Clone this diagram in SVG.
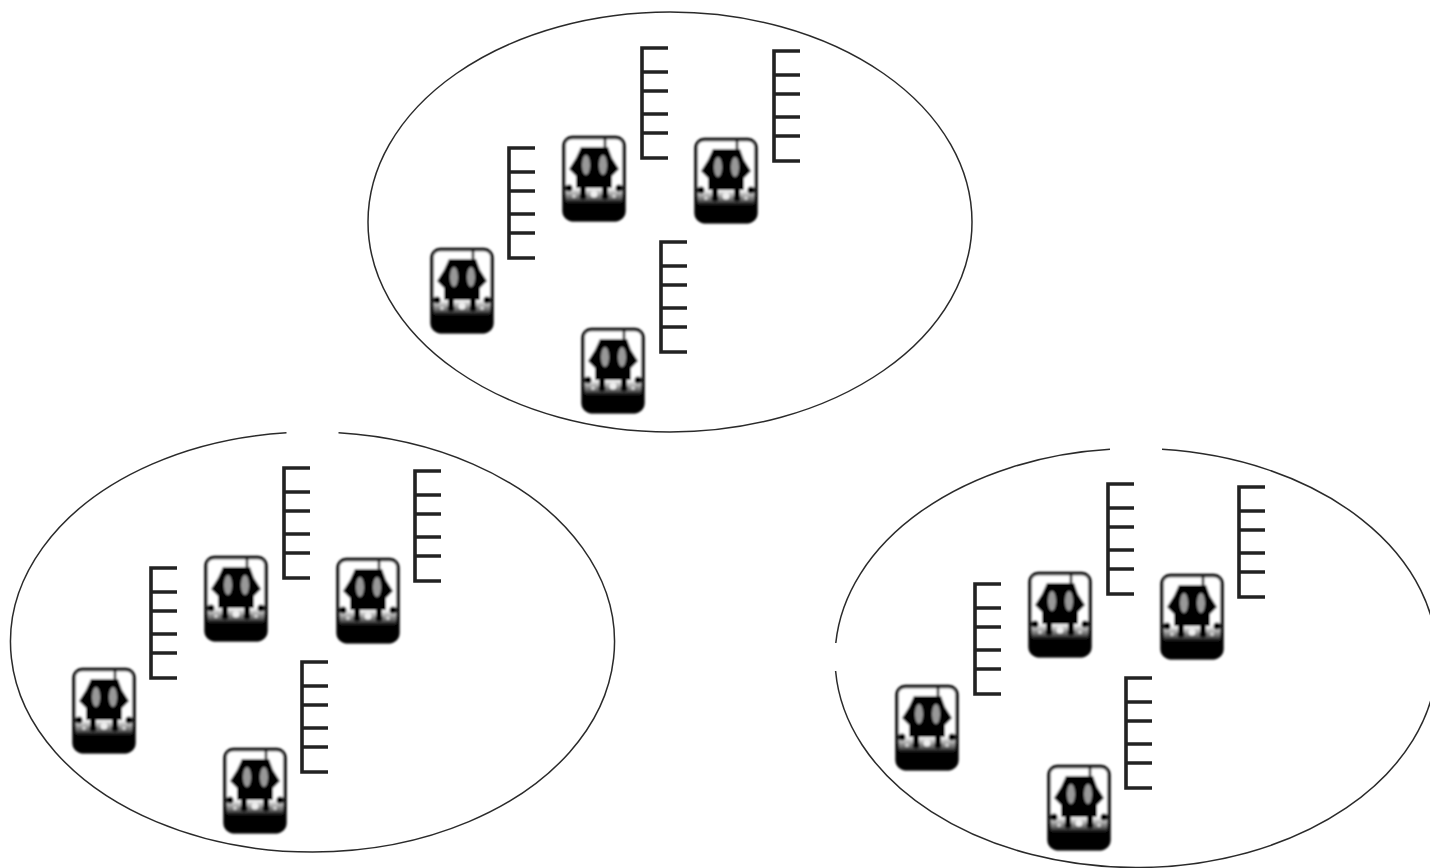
<svg xmlns="http://www.w3.org/2000/svg" width="1430" height="868" viewBox="0 0 1430 868">
<style>
.oval{fill:none;stroke:#2a2a2a;stroke-width:1.5}
.comb{fill:none;stroke:#222;stroke-width:3.6}
</style>
<defs>
<filter id="soft" x="-10%" y="-10%" width="120%" height="120%"><feGaussianBlur stdDeviation="1.1"/></filter>
<filter id="softer" x="-20%" y="-5%" width="140%" height="110%"><feGaussianBlur stdDeviation="0.5"/></filter>
<linearGradient id="fade" x1="0" y1="0" x2="0" y2="1"><stop offset="0" stop-color="#000" stop-opacity="0"/><stop offset="0.3" stop-color="#000" stop-opacity="0.6"/><stop offset="0.45" stop-color="#000"/><stop offset="1" stop-color="#000"/></linearGradient>
<g id="device" filter="url(#soft)">
<rect x="2" y="1.500" width="60" height="82" rx="8" fill="#fff" stroke="#000" stroke-width="3.400"/>
<path d="M43 3V13" stroke="#000" stroke-width="2.500"/>
<path d="M19 11H46L50 22L57 33L50 40V52H14V40L7 33L14 22Z" fill="#000"/>
<ellipse cx="24" cy="29" rx="4" ry="10" fill="#999"/>
<ellipse cx="41" cy="29" rx="4" ry="10" fill="#999"/>
<path d="M2 52H62V76C62 81 58 85.500 54 85.500H10C6 85.500 2 81 2 76Z" fill="url(#fade)"/>
<path d="M21 48V60M43 48V60" stroke="#000" stroke-width="6"/>
<circle cx="7" cy="52" r="3.500" fill="#000"/><circle cx="57" cy="52" r="3.500" fill="#000"/>
<circle cx="21" cy="60" r="3.500" fill="#000"/><circle cx="43" cy="60" r="3.500" fill="#000"/>
<circle cx="32" cy="58" r="3.500" fill="#eee"/>
<circle cx="12" cy="60" r="2" fill="#ccc"/><circle cx="52" cy="60" r="2" fill="#ccc"/>
</g>
<g id="rack" filter="url(#softer)"><path class="comb" d="M28 2H2V112H28M2 26H28M2 45H28M2 68H28M2 87H28"/></g>
</defs>
<g id="cluster-1">
<ellipse class="oval" cx="670" cy="222" rx="302" ry="210"/>
<g id="c1-device-1"><use href="#device" x="430" y="248"/></g>
<g id="c1-device-2"><use href="#device" x="562" y="136"/></g>
<g id="c1-device-3"><use href="#device" x="694" y="138"/></g>
<g id="c1-device-4"><use href="#device" x="581" y="328"/></g>
<g id="c1-rack-1"><use href="#rack" x="507" y="146"/></g>
<g id="c1-rack-2"><use href="#rack" x="640" y="46"/></g>
<g id="c1-rack-3"><use href="#rack" x="772" y="49"/></g>
<g id="c1-rack-4"><use href="#rack" x="659" y="240"/></g>
</g>
<g id="cluster-2">
<path class="oval" d="M338.500 432.800A302 210 0 1 1 286.500 432.800"/>
<g id="c2-device-1"><use href="#device" x="72" y="668"/></g>
<g id="c2-device-2"><use href="#device" x="204" y="556"/></g>
<g id="c2-device-3"><use href="#device" x="336" y="558"/></g>
<g id="c2-device-4"><use href="#device" x="223" y="748"/></g>
<g id="c2-rack-1"><use href="#rack" x="149" y="566"/></g>
<g id="c2-rack-2"><use href="#rack" x="282" y="466"/></g>
<g id="c2-rack-3"><use href="#rack" x="413" y="469"/></g>
<g id="c2-rack-4"><use href="#rack" x="300" y="660"/></g>
</g>
<g id="cluster-3">
<path class="oval" d="M1162 449.300A301 209.500 0 1 1 835.600 671"/>
<path class="oval" d="M835.800 643A301 209.500 0 0 1 1110 449.300"/>
<g id="c3-device-1"><use href="#device" x="895" y="685"/></g>
<g id="c3-device-2"><use href="#device" x="1028" y="572"/></g>
<g id="c3-device-3"><use href="#device" x="1160" y="574"/></g>
<g id="c3-device-4"><use href="#device" x="1047" y="765"/></g>
<g id="c3-rack-1"><use href="#rack" x="973" y="582"/></g>
<g id="c3-rack-2"><use href="#rack" x="1106" y="482"/></g>
<g id="c3-rack-3"><use href="#rack" x="1237" y="485"/></g>
<g id="c3-rack-4"><use href="#rack" x="1124" y="676"/></g>
</g>
</svg>
